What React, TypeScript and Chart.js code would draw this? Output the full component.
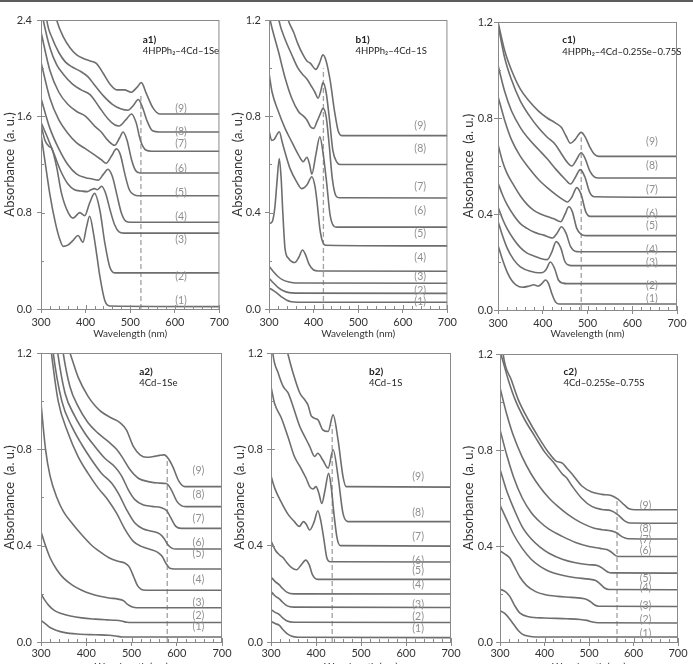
import { useEffect, useRef } from "react";
import { Chart, registerables } from "chart.js";
Chart.register(...registerables);

type Pt = [number, number];

// ---------- a1) 4HPPh2-4Cd-1Se ----------
const a1_1: Pt[] = [[300,1.45],[310,1.2],[320,0.95],[332,0.72],[342,0.58],[350,0.52],[360,0.53],[372,0.57],[383,0.61],[394,0.555],[402,0.68],[409,0.77],[418,0.62],[425,0.45],[432,0.27],[443,0.07],[454,0.025],[700,0.02]];
const a1_2: Pt[] = [[300,1.53],[309,1.4],[318,1.35],[324,1.335],[335,1.18],[346,0.96],[361,0.8],[372,0.755],[387,0.8],[398,0.775],[409,0.88],[420,0.96],[432,0.82],[443,0.55],[454,0.35],[465,0.3],[700,0.3]];
const a1_3: Pt[] = [[300,1.55],[315,1.42],[330,1.28],[345,1.14],[360,1.04],[375,0.99],[390,0.98],[404,0.975],[412,0.99],[420,1.0],[426,0.99],[436,1.02],[445,0.96],[455,0.82],[465,0.7],[475,0.64],[485,0.63],[700,0.63]];
const a1_4: Pt[] = [[300,1.75],[320,1.5],[340,1.33],[360,1.2],[380,1.12],[400,1.09],[415,1.08],[428,1.07],[440,1.12],[450,1.16],[460,1.1],[470,0.95],[480,0.8],[490,0.73],[500,0.72],[700,0.72]];
const a1_5: Pt[] = [[300,2.05],[320,1.75],[340,1.57],[360,1.46],[380,1.38],[400,1.33],[420,1.28],[435,1.24],[446,1.21],[458,1.27],[469,1.33],[478,1.28],[488,1.12],[498,0.99],[508,0.95],[518,0.94],[700,0.94]];
const a1_6: Pt[] = [[300,2.3],[320,1.98],[340,1.8],[360,1.7],[380,1.64],[400,1.6],[420,1.52],[435,1.47],[450,1.4],[465,1.36],[476,1.42],[484,1.47],[493,1.4],[503,1.24],[512,1.15],[522,1.13],[700,1.13]];
const a1_7: Pt[] = [[300,2.5],[305,2.4],[320,2.17],[335,2.03],[350,1.95],[370,1.87],[390,1.82],[410,1.78],[430,1.68],[450,1.58],[465,1.53],[475,1.52],[490,1.57],[503,1.62],[513,1.55],[523,1.4],[535,1.32],[548,1.31],[700,1.31]];
const a1_8: Pt[] = [[300,2.9],[313,2.4],[325,2.25],[340,2.13],[355,2.05],[370,2.01],[390,1.97],[405,1.93],[420,1.86],[440,1.77],[460,1.7],[480,1.66],[495,1.65],[507,1.69],[518,1.74],[527,1.68],[538,1.56],[550,1.48],[565,1.47],[700,1.47]];
const a1_9: Pt[] = [[300,3.2],[320,2.65],[335,2.4],[350,2.26],[365,2.17],[380,2.11],[395,2.08],[410,2.06],[424,2.04],[439,1.96],[454,1.87],[470,1.82],[487,1.82],[502,1.8],[515,1.84],[525,1.88],[536,1.79],[551,1.67],[566,1.62],[700,1.62]];
const a1LabelY = [0.069, 0.27, 0.58, 0.768, 0.97, 1.169, 1.37, 1.476, 1.663];

// ---------- b1) 4HPPh2-4Cd-1S ----------
const b1_1: Pt[] = [[300,0.088],[310,0.076],[320,0.063],[330,0.048],[340,0.036],[350,0.03],[365,0.028],[700,0.028]];
const b1_2: Pt[] = [[300,0.128],[310,0.108],[320,0.09],[332,0.076],[345,0.068],[360,0.066],[700,0.065]];
const b1_3: Pt[] = [[300,0.178],[310,0.155],[320,0.135],[332,0.12],[345,0.112],[360,0.108],[700,0.107]];
const b1_4: Pt[] = [[300,0.355],[307,0.362],[313,0.42],[318,0.53],[323,0.625],[327,0.55],[331,0.4],[336,0.25],[344,0.21],[358,0.193],[367,0.215],[375,0.245],[382,0.225],[390,0.185],[400,0.162],[410,0.158],[700,0.157]];
const b1_5: Pt[] = [[300,0.74],[306,0.7],[312,0.705],[318,0.725],[323,0.736],[330,0.69],[336,0.65],[347,0.584],[362,0.528],[373,0.5],[385,0.515],[396,0.549],[403,0.51],[408,0.44],[414,0.334],[420,0.28],[427,0.265],[700,0.262]];
const b1_6: Pt[] = [[300,0.98],[307,0.9],[321,0.82],[336,0.75],[351,0.694],[366,0.64],[377,0.612],[385,0.63],[391,0.6],[396,0.56],[405,0.64],[414,0.715],[421,0.65],[429,0.528],[437,0.39],[445,0.345],[452,0.34],[700,0.34]];
const b1_7: Pt[] = [[300,1.22],[307,1.165],[321,1.07],[336,0.96],[351,0.875],[366,0.82],[378,0.8],[385,0.785],[393,0.757],[400,0.75],[408,0.78],[415,0.81],[421,0.833],[428,0.8],[435,0.68],[442,0.54],[450,0.47],[458,0.462],[700,0.461]];
const b1_8: Pt[] = [[300,1.45],[322,1.2],[336,1.12],[350,1.06],[365,1.0],[375,0.975],[385,0.955],[395,0.925],[403,0.9],[410,0.875],[416,0.905],[421,0.94],[428,0.9],[436,0.78],[443,0.66],[452,0.61],[460,0.6],[700,0.6]];
const b1_9: Pt[] = [[300,1.6],[330,1.3],[343,1.2],[355,1.15],[365,1.1],[375,1.06],[385,1.03],[393,1.02],[405,0.995],[413,1.02],[421,1.055],[428,1.03],[437,0.95],[447,0.82],[455,0.74],[463,0.72],[700,0.72]];
const b1LabelY = [0.029, 0.078, 0.133, 0.214, 0.313, 0.407, 0.51, 0.667, 0.76];

// ---------- c1) 4HPPh2-4Cd-0.25Se-0.75S ----------
const c1_1: Pt[] = [[300,0.27],[310,0.21],[320,0.16],[330,0.125],[340,0.105],[355,0.095],[370,0.1],[380,0.105],[390,0.1],[398,0.11],[406,0.125],[413,0.11],[420,0.07],[428,0.035],[436,0.025],[700,0.025]];
const c1_2: Pt[] = [[300,0.37],[310,0.31],[320,0.26],[335,0.21],[350,0.18],[375,0.16],[390,0.155],[400,0.156],[408,0.17],[417,0.2],[427,0.17],[435,0.125],[445,0.112],[455,0.11],[700,0.11]];
const c1_3: Pt[] = [[300,0.43],[310,0.38],[320,0.34],[335,0.295],[350,0.26],[365,0.237],[380,0.225],[395,0.215],[410,0.21],[420,0.24],[430,0.285],[440,0.26],[450,0.2],[460,0.186],[470,0.185],[700,0.185]];
const c1_4: Pt[] = [[300,0.53],[310,0.48],[320,0.44],[335,0.395],[350,0.36],[365,0.34],[380,0.325],[392,0.317],[402,0.312],[412,0.305],[422,0.3],[432,0.32],[442,0.347],[452,0.32],[462,0.265],[472,0.245],[482,0.243],[700,0.243]];
const c1_5: Pt[] = [[300,0.69],[310,0.62],[320,0.57],[335,0.52],[350,0.475],[365,0.44],[380,0.415],[395,0.4],[410,0.39],[425,0.38],[440,0.368],[450,0.4],[458,0.43],[466,0.41],[476,0.34],[486,0.315],[496,0.31],[700,0.31]];
const c1_6: Pt[] = [[300,0.89],[315,0.79],[330,0.71],[350,0.64],[370,0.59],[390,0.545],[410,0.51],[430,0.48],[445,0.46],[455,0.45],[465,0.47],[476,0.51],[486,0.48],[496,0.41],[506,0.39],[700,0.39]];
const c1_7: Pt[] = [[300,1.02],[315,0.91],[330,0.83],[350,0.76],[370,0.71],[390,0.67],[410,0.63],[430,0.585],[450,0.545],[462,0.525],[472,0.55],[484,0.585],[494,0.555],[505,0.49],[515,0.472],[700,0.47]];
const c1_8: Pt[] = [[300,1.19],[315,1.05],[330,0.96],[350,0.87],[370,0.81],[390,0.76],[410,0.72],[428,0.69],[442,0.65],[455,0.615],[465,0.6],[475,0.625],[486,0.655],[495,0.63],[505,0.58],[515,0.555],[525,0.55],[700,0.55]];
const c1_9: Pt[] = [[300,1.2],[315,1.08],[330,1.0],[350,0.92],[370,0.87],[390,0.83],[410,0.8],[428,0.78],[442,0.76],[452,0.725],[462,0.695],[472,0.71],[486,0.74],[495,0.72],[505,0.68],[515,0.65],[525,0.64],[700,0.64]];
const c1LabelY = [0.046, 0.1, 0.199, 0.253, 0.35, 0.403, 0.5, 0.601, 0.7];

// ---------- a2) 4Cd-1Se ----------
const a2_1: Pt[] = [[300,0.09],[310,0.075],[320,0.06],[335,0.048],[350,0.04],[380,0.033],[420,0.03],[450,0.028],[465,0.025],[480,0.021],[700,0.021]];
const a2_2: Pt[] = [[300,0.2],[308,0.175],[318,0.15],[330,0.13],[345,0.118],[365,0.108],[390,0.1],[420,0.095],[445,0.092],[465,0.09],[478,0.087],[490,0.082],[500,0.081],[700,0.081]];
const a2_3: Pt[] = [[300,0.458],[310,0.4],[320,0.35],[335,0.3],[350,0.265],[370,0.235],[390,0.215],[410,0.2],[430,0.19],[450,0.183],[470,0.178],[482,0.172],[492,0.155],[502,0.145],[512,0.142],[700,0.142]];
const a2_4: Pt[] = [[300,0.99],[310,0.8],[320,0.69],[335,0.6],[350,0.54],[370,0.49],[390,0.445],[410,0.405],[430,0.375],[450,0.35],[470,0.335],[485,0.328],[495,0.312],[505,0.27],[513,0.235],[522,0.218],[532,0.215],[700,0.215]];
const a2_5: Pt[] = [[300,1.6],[323,1.2],[338,1.0],[360,0.867],[382,0.77],[404,0.7],[426,0.64],[448,0.59],[467,0.535],[485,0.47],[504,0.418],[522,0.397],[540,0.385],[558,0.372],[568,0.355],[576,0.327],[585,0.306],[595,0.303],[700,0.303]];
const a2_6: Pt[] = [[300,1.7],[327,1.2],[346,1.0],[368,0.895],[390,0.82],[412,0.756],[434,0.7],[456,0.66],[471,0.617],[489,0.55],[507,0.495],[525,0.47],[545,0.46],[563,0.448],[572,0.43],[580,0.405],[589,0.39],[598,0.386],[700,0.386]];
const a2_7: Pt[] = [[300,1.8],[337,1.2],[353,1.034],[375,0.937],[397,0.867],[419,0.812],[441,0.763],[463,0.728],[478,0.69],[493,0.632],[508,0.59],[525,0.57],[545,0.563],[565,0.558],[578,0.545],[587,0.515],[598,0.48],[610,0.472],[700,0.472]];
const a2_8: Pt[] = [[300,1.9],[349,1.2],[364,1.06],[382,0.978],[404,0.91],[426,0.867],[449,0.832],[467,0.8],[478,0.772],[497,0.715],[515,0.68],[537,0.666],[559,0.66],[577,0.658],[588,0.632],[600,0.585],[610,0.566],[620,0.562],[700,0.562]];
const a2_9: Pt[] = [[300,2.0],[340,1.32],[364,1.2],[382,1.1],[404,1.02],[420,0.98],[434,0.955],[456,0.93],[475,0.91],[489,0.88],[504,0.812],[519,0.777],[533,0.767],[548,0.77],[562,0.775],[572,0.777],[582,0.76],[592,0.725],[604,0.67],[618,0.645],[700,0.645]];
const a2LabelY = [0.063, 0.111, 0.163, 0.26, 0.365, 0.414, 0.514, 0.611, 0.712];

// ---------- b2) 4Cd-1S ----------
const b2_1: Pt[] = [[300,0.085],[310,0.076],[318,0.07],[325,0.055],[335,0.036],[345,0.025],[360,0.02],[700,0.018]];
const b2_2: Pt[] = [[300,0.135],[310,0.122],[318,0.115],[326,0.1],[336,0.087],[350,0.082],[700,0.081]];
const b2_3: Pt[] = [[300,0.21],[310,0.19],[318,0.18],[326,0.165],[336,0.15],[350,0.145],[700,0.143]];
const b2_4: Pt[] = [[300,0.27],[310,0.25],[318,0.238],[326,0.222],[336,0.206],[350,0.2],[700,0.199]];
const b2_5: Pt[] = [[300,0.42],[310,0.38],[320,0.36],[327,0.35],[335,0.33],[345,0.31],[357,0.3],[367,0.32],[377,0.34],[385,0.32],[392,0.28],[400,0.262],[410,0.26],[700,0.26]];
const b2_6: Pt[] = [[300,0.69],[308,0.64],[323,0.58],[338,0.53],[352,0.5],[363,0.48],[372,0.5],[378,0.49],[386,0.465],[396,0.5],[404,0.545],[411,0.5],[418,0.42],[424,0.35],[432,0.333],[700,0.332]];
const b2_7: Pt[] = [[300,1.06],[308,0.99],[323,0.93],[338,0.85],[352,0.77],[367,0.72],[378,0.68],[386,0.645],[393,0.635],[400,0.645],[406,0.62],[413,0.575],[420,0.63],[428,0.7],[434,0.64],[440,0.53],[447,0.43],[454,0.4],[700,0.398]];
const b2_8: Pt[] = [[300,1.3],[304,1.2],[316,1.117],[327,1.061],[338,1.034],[349,0.978],[364,0.895],[375,0.853],[386,0.812],[397,0.77],[404,0.784],[415,0.756],[427,0.722],[438,0.798],[449,0.687],[460,0.534],[471,0.5],[700,0.5]];
const b2_9: Pt[] = [[300,1.5],[338,1.193],[349,1.117],[364,1.034],[375,1.006],[382,0.985],[390,0.937],[404,0.923],[415,0.881],[427,0.874],[438,0.943],[449,0.839],[460,0.687],[467,0.645],[700,0.643]];
const b2LabelY = [0.056, 0.107, 0.157, 0.24, 0.295, 0.34, 0.437, 0.537, 0.687];

// ---------- c2) 4Cd-0.25Se-0.75S ----------
const c2_1: Pt[] = [[300,0.13],[310,0.12],[320,0.1],[330,0.075],[340,0.05],[350,0.033],[365,0.024],[380,0.021],[700,0.021]];
const c2_2: Pt[] = [[300,0.22],[312,0.21],[322,0.19],[332,0.155],[345,0.12],[365,0.105],[400,0.1],[450,0.097],[480,0.094],[495,0.09],[508,0.083],[520,0.08],[700,0.079]];
const c2_3: Pt[] = [[300,0.38],[312,0.365],[322,0.35],[332,0.315],[345,0.27],[360,0.235],[380,0.21],[400,0.198],[430,0.19],[460,0.186],[490,0.18],[502,0.17],[512,0.155],[522,0.149],[700,0.148]];
const c2_4: Pt[] = [[300,0.57],[315,0.51],[330,0.45],[350,0.39],[370,0.345],[390,0.315],[410,0.295],[440,0.278],[470,0.268],[500,0.262],[515,0.256],[525,0.242],[535,0.225],[545,0.219],[700,0.218]];
const c2_5: Pt[] = [[300,0.72],[315,0.63],[330,0.56],[350,0.48],[370,0.43],[390,0.395],[410,0.37],[440,0.345],[470,0.33],[500,0.322],[520,0.318],[532,0.305],[542,0.292],[552,0.288],[700,0.287]];
const c2_6: Pt[] = [[300,0.885],[315,0.78],[330,0.69],[350,0.6],[370,0.54],[390,0.5],[410,0.47],[440,0.44],[470,0.415],[500,0.398],[525,0.39],[540,0.385],[550,0.375],[560,0.36],[570,0.356],[700,0.356]];
const c2_7: Pt[] = [[300,1.06],[315,0.95],[330,0.86],[350,0.77],[370,0.7],[390,0.645],[410,0.6],[430,0.565],[450,0.535],[470,0.51],[490,0.49],[510,0.475],[530,0.468],[550,0.463],[562,0.455],[575,0.438],[588,0.43],[700,0.429]];
const c2_8: Pt[] = [[300,1.21],[305,1.18],[319,1.09],[334,1.01],[356,0.925],[379,0.855],[401,0.79],[424,0.74],[440,0.7],[450,0.683],[462,0.65],[484,0.598],[506,0.565],[529,0.552],[550,0.547],[565,0.53],[580,0.505],[592,0.496],[700,0.495]];
const c2_9: Pt[] = [[300,1.35],[307,1.2],[326,1.09],[341,1.01],[364,0.925],[386,0.855],[409,0.79],[425,0.755],[440,0.745],[450,0.725],[462,0.7],[484,0.65],[506,0.625],[529,0.615],[550,0.61],[565,0.595],[580,0.57],[590,0.555],[604,0.551],[700,0.551]];
const c2LabelY = [0.037, 0.093, 0.151, 0.225, 0.266, 0.381, 0.426, 0.472, 0.567];

const curveLabels = ["(1)", "(2)", "(3)", "(4)", "(5)", "(6)", "(7)", "(8)", "(9)"];

const FONT = "Lato, 'Open Sans', 'DejaVu Sans', sans-serif";
const LINE = "#6e6e6e";
const FRAME = "#8a8a8a";

interface PanelDef {
  curves: Pt[][];
  yMax: number;
  yStep: number;
  dashX: number;
  dashTop: number;
  labelX: number;
  labelY: number[];
  tag: string;
  sub: string;
  tagX: number;
  tagY: number;
  subY: number;
  box: [number, number, number, number];
  area: [number, number, number, number];
  yPad: number;
  xPad: number;
}

const panels: PanelDef[] = [
  { curves: [a1_1, a1_2, a1_3, a1_4, a1_5, a1_6, a1_7, a1_8, a1_9], yMax: 2.4, yStep: 0.8, dashX: 524, dashTop: 1.78, labelX: 614, labelY: a1LabelY,
    tag: "a1)", sub: "4HPPh\u2082\u20134Cd\u20131Se", tagX: 528, tagY: 2.233, subY: 2.146, box: [0, 0, 232, 340], area: [41, 20, 220, 309], yPad: 5, xPad: 3 },
  { curves: [b1_1, b1_2, b1_3, b1_4, b1_5, b1_6, b1_7, b1_8, b1_9], yMax: 1.2, yStep: 0.4, dashX: 422, dashTop: 1.0, labelX: 639, labelY: b1LabelY,
    tag: "b1)", sub: "4HPPh\u2082\u20134Cd\u20131S", tagX: 494, tagY: 1.117, subY: 1.073, box: [228, 0, 232, 340], area: [269, 20, 448, 309], yPad: 4, xPad: 3 },
  { curves: [c1_1, c1_2, c1_3, c1_4, c1_5, c1_6, c1_7, c1_8, c1_9], yMax: 1.2, yStep: 0.4, dashX: 486, dashTop: 0.72, labelX: 644, labelY: c1LabelY,
    tag: "c1)", sub: "4HPPh\u2082\u20134Cd\u20130.25Se\u20130.75S", tagX: 443.5, tagY: 1.125, subY: 1.075, box: [459, 0, 234, 340], area: [498, 22, 677, 310], yPad: 1, xPad: 3 },
  { curves: [a2_1, a2_2, a2_3, a2_4, a2_5, a2_6, a2_7, a2_8, a2_9], yMax: 1.2, yStep: 0.4, dashX: 579, dashTop: 0.76, labelX: 648, labelY: a2LabelY,
    tag: "a2)", sub: "4Cd\u20131Se", tagX: 517, tagY: 1.122, subY: 1.077, box: [0, 340, 234, 333], area: [41, 353, 222, 642], yPad: 5, xPad: 1 },
  { curves: [b2_1, b2_2, b2_3, b2_4, b2_5, b2_6, b2_7, b2_8, b2_9], yMax: 1.2, yStep: 0.4, dashX: 436, dashTop: 0.9, labelX: 627, labelY: b2LabelY,
    tag: "b2)", sub: "4Cd\u20131S", tagX: 517.8, tagY: 1.122, subY: 1.077, box: [230, 340, 233, 333], area: [271, 353, 451, 642], yPad: 4, xPad: 1 },
  { curves: [c2_1, c2_2, c2_3, c2_4, c2_5, c2_6, c2_7, c2_8, c2_9], yMax: 1.2, yStep: 0.4, dashX: 563, dashTop: 0.6, labelX: 627, labelY: c2LabelY,
    tag: "c2)", sub: "4Cd\u20130.25Se\u20130.75S", tagX: 442.8, tagY: 1.125, subY: 1.08, box: [459, 340, 234, 333], area: [500, 354, 678, 642], yPad: 3, xPad: 1 },
];

function PanelChart({ p }: { p: PanelDef }) {
  const ref = useRef<HTMLCanvasElement>(null);
  const [L, T, W, H] = p.box;
  useEffect(() => {
    const [l, t, r, b] = p.area;
    const datasets: any[] = p.curves.map((c) => ({
      data: c.map(([x, y]) => ({ x, y })),
      borderColor: LINE,
      borderWidth: 1.6,
      pointRadius: 0,
      cubicInterpolationMode: "monotone",
      fill: false,
    }));
    datasets.push({
      data: [{ x: p.dashX, y: 0 }, { x: p.dashX, y: p.dashTop }],
      borderColor: "#a0a0a0",
      borderWidth: 1.3,
      borderDash: [5, 3],
      pointRadius: 0,
      fill: false,
    });
    const deco = {
      id: "deco",
      afterDatasetsDraw(chart: any) {
        const ctx = chart.ctx;
        const xs = chart.scales.x;
        const ys = chart.scales.y;
        const ca = chart.chartArea;
        ctx.save();
        ctx.strokeStyle = FRAME;
        ctx.lineWidth = 1;
        ctx.strokeRect(ca.left + 0.5, ca.top + 0.5, ca.right - ca.left - 1, ca.bottom - ca.top);
        ctx.beginPath();
        for (let v = 300; v <= 700; v += 20) {
          const px = Math.round(xs.getPixelForValue(v)) + 0.5;
          const len = v % 100 === 0 ? 4 : 3;
          ctx.moveTo(px, ca.bottom);
          ctx.lineTo(px, ca.bottom - len);
        }
        const half = p.yStep / 2;
        for (let k = 0; k * half <= p.yMax + 1e-9; k++) {
          const py = Math.round(ys.getPixelForValue(k * half)) + 0.5;
          const len = k % 2 === 0 ? 4 : 3;
          ctx.moveTo(ca.left, py);
          ctx.lineTo(ca.left + len, py);
        }
        ctx.stroke();
        ctx.fillStyle = "#8f8f8f";
        ctx.font = `10.5px ${FONT}`;
        ctx.textAlign = "center";
        ctx.textBaseline = "middle";
        p.labelY.forEach((v, i) => {
          ctx.fillText(curveLabels[i], xs.getPixelForValue(p.labelX), ys.getPixelForValue(v));
        });
        ctx.fillStyle = "#222";
        ctx.textAlign = "left";
        ctx.font = `bold 10px ${FONT}`;
        ctx.fillText(p.tag, xs.getPixelForValue(p.tagX), ys.getPixelForValue(p.tagY));
        ctx.font = `9.5px ${FONT}`;
        ctx.fillText(p.sub, xs.getPixelForValue(p.tagX), ys.getPixelForValue(p.subY));
        ctx.restore();
      },
    };
    const chart = new Chart(ref.current as HTMLCanvasElement, {
      type: "line",
      data: { datasets },
      options: {
        animation: false,
        responsive: false,
        maintainAspectRatio: false,
        events: [],
        layout: { padding: { left: 0, top: t - T, right: L + W - r, bottom: 0 } },
        plugins: { legend: { display: false }, tooltip: { enabled: false } },
        scales: {
          x: {
            type: "linear",
            min: 300,
            max: 700,
            afterFit: (s: any) => { s.height = T + H - b; },
            ticks: { stepSize: 100, padding: p.xPad, color: "#333", font: { family: FONT, size: 11 }, maxRotation: 0, autoSkip: false },
            grid: { display: true, drawOnChartArea: false, drawTicks: true, tickLength: 4, color: FRAME },
            border: { display: true, color: FRAME },
            title: { display: true, text: "Wavelength (nm)", color: "#333", font: { family: FONT, size: 10 }, padding: 0 },
          },
          y: {
            type: "linear",
            min: 0,
            max: p.yMax,
            afterFit: (s: any) => { s.width = l - L; },
            ticks: { stepSize: p.yStep, padding: p.yPad, color: "#333", font: { family: FONT, size: 11 }, callback: (v: any) => Number(v).toFixed(1) },
            grid: { display: true, drawOnChartArea: false, drawTicks: true, tickLength: 4, color: FRAME },
            border: { display: true, color: FRAME },
            title: { display: true, text: "Absorbance  (a. u.)", color: "#333", font: { family: FONT, size: 13 }, padding: { top: 2, bottom: 0 } },
          },
        },
      },
      plugins: [deco],
    } as any);
    return () => chart.destroy();
  }, [p]);
  return (
    <canvas
      ref={ref}
      width={W}
      height={H}
      style={{ position: "absolute", left: L, top: T, width: W, height: H }}
    />
  );
}

export default function App() {
  return (
    <div style={{ position: "absolute", left: 0, top: 0, width: 693, height: 664, overflow: "hidden", background: "#fff" }}>
      <div style={{ position: "absolute", left: 0, top: 0, width: 693, height: 2, background: "#5c5c5c" }} />
      {panels.map((p, i) => (
        <PanelChart key={i} p={p} />
      ))}
    </div>
  );
}
